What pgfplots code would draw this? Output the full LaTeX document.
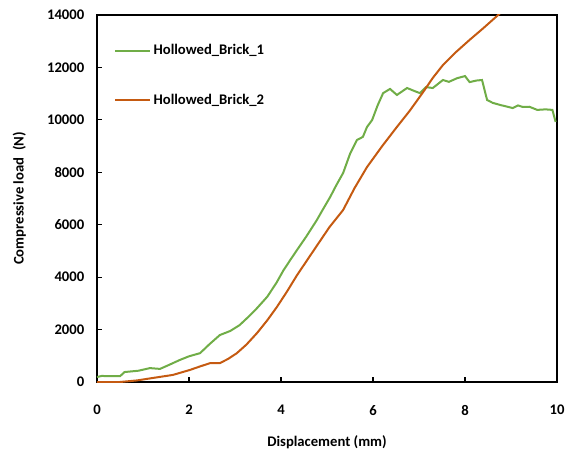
\documentclass[border=0pt]{standalone}
\usepackage{pgfplots}
\pgfplotsset{compat=1.18}
\usepackage{fontspec}
\setmainfont{Carlito}

\definecolor{brickA}{RGB}{112,173,71}
\definecolor{brickB}{RGB}{197,90,17}

\begin{document}
\begin{tikzpicture}
  \begin{axis}[
    name=ax,
    width=345pt, height=275.25pt,
    scale only axis,
    xmin=0, xmax=10, ymin=0, ymax=14000,
    xtick={0,2,...,10},
    ytick={0,2000,...,14000},
    tick align=inside,
    tick pos=left,
    major tick length=4pt,
    axis line style={line width=1pt},
    tick style={line width=0.8pt, black},
    /pgf/number format/assume math mode=true,
    /pgf/number format/1000 sep={},
    scaled y ticks=false,
    tick label style={font=\fontsize{11}{13}\selectfont\bfseries},
    xticklabel style={yshift=-14pt},
    yticklabel style={xshift=-6pt},
    label style={font=\fontsize{11}{13}\selectfont\bfseries},
    xlabel={Displacement (mm)},
    ylabel={Compressive load\ \ (N)},
    xlabel style={yshift=-8pt},
    ylabel style={yshift=9pt},
    legend style={at={(0.037,0.928)}, anchor=north west, draw=none, fill=none,
      font=\fontsize{11}{13}\selectfont\bfseries, row sep=24pt,
      inner sep=0pt},
    legend cell align=left,
    legend image code/.code={\draw[#1] (0pt,0pt) -- (26pt,0pt);},
  ]
    \addplot[brickA, line width=1.5pt] coordinates {
      (0,190) (0.1,230) (0.5,220) (0.6,380) (0.9,430) (1.15,530) (1.37,500)
      (1.55,640) (1.8,840) (2.0,980) (2.24,1100) (2.45,1450) (2.67,1790)
      (2.9,1950) (3.1,2170) (3.3,2500) (3.48,2820) (3.7,3250) (3.9,3780)
      (4.05,4250) (4.2,4650) (4.35,5040) (4.55,5550) (4.78,6180) (4.9,6550)
      (5.07,7060) (5.2,7500) (5.35,7970) (5.5,8700) (5.65,9230) (5.78,9350)
      (5.87,9730) (5.98,9990) (6.1,10550) (6.22,11020) (6.37,11180)
      (6.52,10950) (6.74,11215) (6.9,11100) (7.02,11020) (7.15,11250)
      (7.3,11215) (7.52,11520) (7.65,11450) (7.83,11590) (8.0,11670)
      (8.1,11440) (8.25,11500) (8.37,11520) (8.48,10760) (8.6,10650)
      (8.76,10570) (9.04,10450) (9.15,10550) (9.26,10490) (9.4,10500)
      (9.57,10380) (9.75,10400) (9.9,10380) (9.97,9920)
    };
    \addlegendentry{Hollowed\_Brick\_1}
    \addplot[brickB, line width=1.5pt] coordinates {
      (0,0) (0.5,0) (0.87,60) (1.2,150) (1.65,270) (2.02,460) (2.25,600)
      (2.46,720) (2.67,720) (2.85,880) (3.04,1100) (3.25,1430) (3.48,1870)
      (3.7,2350) (3.91,2860) (4.13,3450) (4.35,4080) (4.55,4600) (4.78,5200)
      (5.05,5900) (5.35,6560) (5.6,7400) (5.87,8200) (6.2,9000) (6.52,9730)
      (6.8,10350) (7.09,11060) (7.3,11600) (7.52,12090) (7.8,12580)
      (8.1,13050) (8.4,13500) (8.72,14000) (9.0,14450)
    };
    \addlegendentry{Hollowed\_Brick\_2}
  \end{axis}
  \path (ax.south west) ++(-72.75pt,-51pt) rectangle ([shift={(9.75pt,11.25pt)}]ax.north east);
\end{tikzpicture}
\end{document}
